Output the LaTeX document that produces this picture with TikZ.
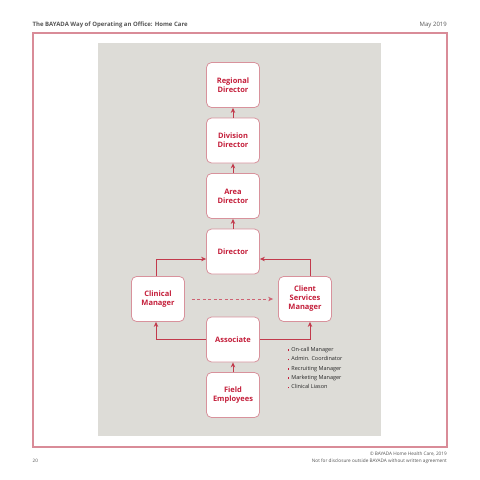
\documentclass[tikz,border=0pt]{standalone}
\usepackage{fontspec}
\setmainfont{Open Sans}
\usetikzlibrary{arrows.meta}
\definecolor{bayred}{HTML}{C41E3A}
\definecolor{boxline}{HTML}{D8929C}
\definecolor{connred}{HTML}{C23A4C}
\definecolor{dashred}{HTML}{CE6272}
\definecolor{framepink}{HTML}{D98C98}
\definecolor{panelgray}{HTML}{DDDCD7}
\definecolor{txtgray}{HTML}{555555}
\tikzset{
  orgbox/.style={rectangle, rounded corners=5pt, draw=boxline, fill=white, line width=0.8pt,
    minimum width=53pt, minimum height=45pt, align=center, text=bayred,
    font=\fontsize{7.5}{9}\selectfont\bfseries, inner sep=1pt},
  conn/.style={draw=connred, line width=0.8pt, -{Stealth[length=5pt,width=4.5pt]}},
  dconn/.style={conn, draw=dashred, dashed, dash pattern=on 3pt off 2.5pt}
}
\newcommand{\redbul}{\textcolor{bayred}{\rule[0.5pt]{1.7pt}{1.7pt}}\hspace{2pt}}
\begin{document}
\begin{tikzpicture}[x=1pt,y=-1pt]
\useasboundingbox (0,0) rectangle (480,480);
\fill[white] (0,0) rectangle (480,480);
% header
\node[anchor=west, text=txtgray, font=\fontsize{6}{7}\selectfont\bfseries, inner sep=0] (title) at (32.5,25) {The BAYADA Way of Operating an Office: Home Care};
\node[anchor=east, text=txtgray, font=\fontsize{6}{7}\selectfont, inner sep=0] (date) at (447,25) {May 2019};
% frame
\draw[framepink, line width=1.1pt] (33,33) rectangle (447,447);
% panel
\fill[panelgray] (98,43) rectangle (381,436);
% boxes
\node[orgbox] (reg) at (233,85) {Regional\\Director};
\node[orgbox] (div) at (233,140.5) {Division\\Director};
\node[orgbox] (area) at (233,196) {Area\\Director};
\node[orgbox] (dir) at (233,251.5) {Director};
\node[orgbox] (cm) at (158,299) {Clinical\\Manager};
\node[orgbox] (csm) at (305,299) {Client\\Services\\Manager};
\node[orgbox] (assoc) at (233,339.5) {Associate};
\node[orgbox] (field) at (233,395) {Field\\Employees};
% connectors
\draw[conn] (div) -- (reg);
\draw[conn] (area) -- (div);
\draw[conn] (dir) -- (area);
\draw[conn] (field) -- (assoc);
\draw[conn] ([xshift=-2pt]cm.north) |- ([yshift=-7.5pt]dir.west);
\draw[conn] ([xshift=5pt]csm.north) |- ([yshift=-7.5pt]dir.east);
\draw[conn] (assoc.west) -| ([xshift=-2pt]cm.south);
\draw[conn] (assoc.east) -| ([xshift=5pt]csm.south);
\draw[dconn] ([xshift=7pt]cm.east) -- ([xshift=-5pt]csm.west);
% role list
\node[anchor=north west, align=left, inner sep=0, text=black!85,
  font=\fontsize{5.5}{9.3}\selectfont] (roles) at (287.5,347.3)
  {\redbul On-call Manager\\
   \redbul Admin. Coordinator\\
   \redbul Recruiting Manager\\
   \redbul Marketing Manager\\
   \redbul Clinical Liason};
% footer
\node[anchor=west, text=txtgray, font=\fontsize{4.6}{6}\selectfont, inner sep=0] (page) at (32.5,461) {20};
\node[anchor=east, align=right, text=txtgray, font=\fontsize{4.7}{6.6}\selectfont, inner sep=0] (foot) at (447,457.5) {© BAYADA Home Health Care, 2019\\Not for disclosure outside BAYADA without written agreement};
\end{tikzpicture}
\end{document}
